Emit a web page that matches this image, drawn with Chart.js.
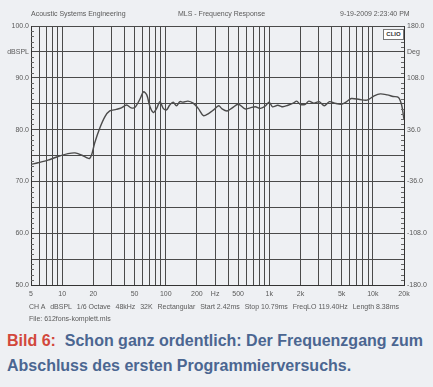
<!DOCTYPE html>
<html>
<head>
<meta charset="utf-8">
<script src="https://cdn.jsdelivr.net/npm/chart.js@4.4.1/dist/chart.umd.min.js"></script>
<style>
  body { margin: 0; background: #eef0f3; font-family: "Liberation Sans", Arial, sans-serif; }
  #wrap { position: relative; width: 433px; height: 387px; overflow: hidden; }
  #myChart { position: absolute; left: 0; top: 0; }
  .small { position: absolute; font-size: 7px; color: #5a5a5a; white-space: nowrap; will-change: transform; }
  #clio { position: absolute; left: 383px; top: 29px; width: 19px; height: 9px; background: #fff;
          border: 1px solid #777; font: bold 6px "Liberation Sans", Arial; color: #333;
          text-align: center; line-height: 9px; }
  #info { position: absolute; left: 29px; top: 303px; width: 370px; display: flex;
          justify-content: space-between; font-size: 7px; color: #5a5a5a; will-change: transform; }
  .cap { position: absolute; left: 7px; font: bold 16px "Liberation Sans", Arial; color: #4b6691; white-space: nowrap; }
  .cap b { color: #d2483c; }
</style>
</head>
<body>
<div id="wrap">
  <canvas id="myChart" width="433" height="300"></canvas>
  <div class="small" style="left:31px; top:10px;">Acoustic Systems Engineering</div>
  <div class="small" style="left:178px; top:10px;">MLS - Frequency Response</div>
  <div class="small" style="left:340px; top:10px;">9-19-2009 2:23:40 PM</div>
  <div id="clio">CLIO</div>
  <div id="info">
    <span>CH A</span><span>dBSPL</span><span>1/6 Octave</span><span>48kHz</span><span>32K</span>
    <span>Rectangular</span><span>Start 2.42ms</span><span>Stop 10.79ms</span>
    <span>FreqLO 119.40Hz</span><span>Length 8.38ms</span>
  </div>
  <div class="small" style="left:29px; top:315px;">File: 612fons-komplett.mls</div>
  <div class="cap" style="top:332px;"><b>Bild 6:</b>&nbsp; Schon ganz ordentlich: Der Frequenzgang zum</div>
  <div class="cap" style="top:357px;">Abschluss des ersten Programmierversuchs.</div>
</div>
<script>
// frequency response
const freqs = [5, 5.84, 7.3, 9.1, 11.4, 13.3, 15.3, 17.2, 18.3, 19.3, 20.6, 23.1, 25.9, 28.8, 33.3, 37.3,
  41.9, 46.4, 50.5, 56.7, 61, 65.6, 70.5, 76, 81.7, 88, 94.6, 101.8, 109, 118, 127, 137, 147, 164, 184,
  206, 231, 259, 290, 325, 350, 392, 439, 503, 583, 654, 733, 822, 922, 996, 1075, 1207, 1354, 1518,
  1703, 1840, 1987, 2230, 2410, 2700, 3030, 3400, 3814, 4280, 4990, 5600, 6200, 7500, 8800, 10300,
  11800, 13800, 15700, 17700, 19000, 20000];
const spl = [73.3, 73.6, 74.1, 74.8, 75.35, 75.5, 75.1, 74.6, 74.4, 75.2, 77.4, 80.3, 82.5, 83.6, 83.9, 84.2,
  84.75, 84.2, 84.3, 86.0, 87.3, 86.7, 84.4, 83.3, 84.1, 85.4, 84.1, 83.8, 84.7, 85.3, 84.6, 85.4, 85.3, 85.5, 85.1,
  84.1, 82.7, 83.1, 83.8, 84.6, 84.0, 83.6, 84.2, 84.9, 84.0, 84.2, 84.4, 84.1, 84.6, 85.3, 84.4, 84.7, 84.4, 84.7,
  85.1, 85.5, 84.9, 84.9, 85.5, 85.1, 85.4, 84.6, 85.4, 85.1, 84.9, 85.4, 86.0, 85.8, 85.7, 86.5,
  86.9, 86.7, 86.4, 86.2, 84.7, 81.9];

// x ticks (grid) and which of them get a label
const xTicks = [5, 6, 7, 8, 9, 10, 20, 30, 40, 50, 60, 70, 80, 90, 100, 200, 300, 400, 500, 600, 700, 800, 900,
  1000, 2000, 3000, 4000, 5000, 6000, 7000, 8000, 9000, 10000, 20000];
const xLabels = { 5: "5", 10: "10", 20: "20", 50: "50", 100: "100", 200: "200", 300: "Hz", 500: "500",
  1000: "1k", 2000: "2k", 5000: "5k", 10000: "10k", 20000: "20k" };
const leftLabels = { 100: "100.0", 95: "dBSPL", 90: "90.0", 80: "80.0", 70: "70.0", 60: "60.0", 50: "50.0" };
const rightLabels = { 180: "180.0", 144: "Deg", 108: "108.0", 36: "36.0", "-36": "-36.0", "-108": "-108.0", "-180": "-180.0" };

const gridCol = "#4a4a4a";
const labelFont = { family: "Liberation Sans", size: 7 };

// little tick marks inside the frame every 1 dB
const minorTicks = {
  id: "minorTicks",
  afterDraw(chart) {
    const { ctx, chartArea: a, scales } = chart;
    ctx.save();
    ctx.strokeStyle = "#666";
    ctx.lineWidth = 1;
    for (let v = 50; v <= 100; v++) {
      if (v % 5 === 0) continue;
      const y = Math.round(scales.y.getPixelForValue(v)) + 0.5;
      ctx.beginPath();
      ctx.moveTo(a.left, y); ctx.lineTo(a.left + 3, y);
      ctx.moveTo(a.right, y); ctx.lineTo(a.right - 3, y);
      ctx.stroke();
    }
    ctx.restore();
  }
};

const config = {
  type: "line",
  data: {
    datasets: [{
      data: freqs.map((f, i) => ({ x: f, y: spl[i] })),
      borderColor: "#4b4b4b",
      borderWidth: 1.4,
      pointRadius: 0,
      tension: 0.3,
      fill: false
    }]
  },
  options: {
    responsive: false,
    animation: false,
    layout: { padding: { top: 26, left: 0, right: 0, bottom: 0 } },
    plugins: { legend: { display: false }, tooltip: { enabled: false } },
    scales: {
      x: {
        type: "logarithmic",
        min: 5, max: 20000,
        afterBuildTicks: (s) => { s.ticks = xTicks.map(v => ({ value: v })); },
        afterFit: (s) => { s.height = 15; },
        ticks: {
          autoSkip: false, maxRotation: 0, padding: 5,
          font: labelFont, color: "#5a5a5a",
          callback: (v) => xLabels[v] || ""
        },
        grid: { color: gridCol, lineWidth: 1, tickLength: 0 },
        border: { color: "#333", width: 1 }
      },
      y: {
        position: "left",
        min: 50, max: 100,
        afterFit: (s) => { s.width = 31; },
        ticks: {
          stepSize: 5, padding: 2,
          font: labelFont, color: "#5a5a5a",
          callback: (v) => leftLabels[v] || ""
        },
        grid: { color: gridCol, lineWidth: 1, tickLength: 0 },
        border: { color: "#333", width: 1 }
      },
      y2: {
        position: "right",
        min: -180, max: 180,
        afterFit: (s) => { s.width = 29; },
        ticks: {
          stepSize: 36, padding: 3,
          font: labelFont, color: "#5a5a5a",
          callback: (v) => rightLabels[v] || ""
        },
        grid: { drawOnChartArea: false, tickLength: 0 },
        border: { color: "#333", width: 1 }
      }
    }
  },
  plugins: [minorTicks]
};

const myChart = new Chart(document.getElementById("myChart"), config);
</script>
</body>
</html>
